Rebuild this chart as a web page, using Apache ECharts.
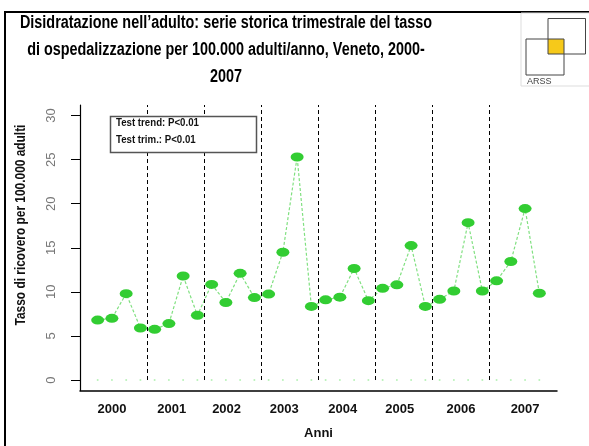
<!DOCTYPE html>
<html>
<head>
<meta charset="utf-8">
<script src="https://cdn.jsdelivr.net/npm/echarts@6/dist/echarts.min.js"></script>
<style>
  html, body { margin: 0; padding: 0; background: #fff; }
  #chart { width: 589px; height: 446px; }
</style>
</head>
<body>
<div id="chart"></div>
<script>
// trimestri 2000-2007 (indice 0..31)
var trimestri = [0, 1, 2, 3, 4, 5, 6, 7, 8, 9, 10, 11, 12, 13, 14, 15,
  16, 17, 18, 19, 20, 21, 22, 23, 24, 25, 26, 27, 28, 29, 30, 31];
var tasso = [6.8, 7.0, 9.8, 5.9, 5.75, 6.4, 11.8, 7.35, 10.85, 8.8, 12.1, 9.35,
  9.75, 14.5, 25.3, 8.35, 9.1, 9.4, 12.65, 9.0, 10.4, 10.8, 15.25, 8.35,
  9.15, 10.1, 17.85, 10.1, 11.25, 13.45, 19.45, 9.85];
var zeri = [0, 0, 0, 0, 0, 0, 0, 0, 0, 0, 0, 0, 0, 0, 0, 0,
  0, 0, 0, 0, 0, 0, 0, 0, 0, 0, 0, 0, 0, 0, 0, 0];
var anni = ["2000", "2001", "2002", "2003", "2004", "2005", "2006", "2007"];
var posAnni = [1.0, 5.2, 9.05, 13.1, 17.2, 21.2, 25.5, 30.0];
var separatori = [3.5, 7.5, 11.5, 15.5, 19.5, 23.5, 27.5];
var tickY = [0, 5, 10, 15, 20, 25, 30];
var titolo = [
  "Disidratazione nell\u2019adulto: serie storica trimestrale del tasso",
  "di ospedalizzazione per 100.000 adulti/anno, Veneto, 2000-",
  "2007"
];

var FONT = '"Liberation Sans", Arial, sans-serif';
var NARROW = 0.8; // il font originale e' un Arial Narrow

var chart = echarts.init(document.getElementById("chart"));

var graphics = [
  { type: "line", shape: { x1: 4, y1: 12, x2: 589, y2: 12 }, style: { stroke: "#000", lineWidth: 2 } },
  { type: "line", shape: { x1: 5, y1: 12, x2: 5, y2: 446 }, style: { stroke: "#000", lineWidth: 2 } },
  // logo ARSS
  { type: "rect", shape: { x: 521, y: 13, width: 70, height: 73 }, style: { fill: "#fff", stroke: "#ddd", lineWidth: 1 } },
  { type: "rect", shape: { x: 548, y: 39, width: 16, height: 15 }, style: { fill: "#f6c91a" } },
  { type: "rect", shape: { x: 548, y: 18.5, width: 37.5, height: 35.5 }, style: { fill: null, stroke: "#444", lineWidth: 1 } },
  { type: "rect", shape: { x: 526, y: 39, width: 38, height: 36 }, style: { fill: null, stroke: "#444", lineWidth: 1 } },
  { type: "text", x: 527, y: 77, style: { text: "ARSS", font: "9px " + FONT, fill: "#444" } },
  // riquadro test
  { type: "rect", z: 10, shape: { x: 110.5, y: 116.5, width: 146, height: 36 }, style: { fill: "#fff", stroke: "#555", lineWidth: 1.5 } },
  { type: "text", z: 11, x: 116, y: 123, scaleX: 0.88, style: { text: "Test trend: P<0.01", font: "bold 11px " + FONT, fill: "#111", verticalAlign: "middle" } },
  { type: "text", z: 11, x: 116, y: 140, scaleX: 0.88, style: { text: "Test trim.: P<0.01", font: "bold 11px " + FONT, fill: "#111", verticalAlign: "middle" } },
  // titolo asse y
  {
    type: "text", rotation: Math.PI / 2, x: 21, y: 225, scaleX: 0.85,
    style: { text: "Tasso di ricovero per 100.000 adulti", font: "bold 14px " + FONT, fill: "#111", align: "center", verticalAlign: "middle" }
  }
];
titolo.forEach(function (riga, i) {
  graphics.push({
    type: "text", x: 226, y: 23 + i * 27, scaleX: NARROW,
    style: { text: riga, font: "bold 18px " + FONT, fill: "#000", align: "center", verticalAlign: "middle" }
  });
});

chart.setOption({
  animation: false,
  backgroundColor: "#fff",
  grid: { left: 80, top: 105, width: 477, height: 285.6 },
  xAxis: {
    type: "value",
    min: -1.24,
    max: 32.24,
    splitLine: { show: false },
    axisLine: { onZero: false, lineStyle: { color: "#000", width: 1.5 } },
    axisTick: { show: false },
    axisLabel: {
      customValues: posAnni,
      margin: 12,
      fontFamily: FONT,
      fontWeight: "bold",
      fontSize: 13,
      color: "#111",
      formatter: function (v) {
        var i = posAnni.indexOf(v);
        return i >= 0 ? anni[i] : "";
      }
    },
    name: "Anni",
    nameLocation: "middle",
    nameGap: 36,
    nameTextStyle: { fontFamily: FONT, fontWeight: "bold", fontSize: 13, color: "#111" }
  },
  yAxis: {
    type: "value",
    min: -1.2,
    max: 31.2,
    splitLine: { show: false },
    axisLine: { show: true, onZero: false, lineStyle: { color: "#000", width: 1.2 } },
    axisTick: { show: true, customValues: tickY, length: 9, lineStyle: { color: "#000" } },
    axisLabel: {
      customValues: tickY,
      rotate: 90,
      margin: 22,
      fontFamily: FONT,
      fontSize: 13,
      color: "#777"
    }
  },
  graphic: graphics,
  series: [
    {
      type: "scatter",
      data: trimestri.map(function (t, i) { return [t, zeri[i]]; }),
      symbol: "circle",
      symbolSize: 2,
      itemStyle: { color: "#a8eea8" },
      silent: true,
      z: 1
    },
    {
      type: "line",
      data: trimestri.map(function (t, i) { return [t, tasso[i]]; }),
      symbol: "circle",
      symbolSize: [13, 9],
      showSymbol: true,
      itemStyle: { color: "#32cd32" },
      lineStyle: { color: "#80e080", width: 1.2, type: [3, 2] },
      z: 3,
      markLine: {
        silent: true,
        symbol: "none",
        label: { show: false },
        lineStyle: { color: "#000", width: 1, type: [4, 3] },
        data: separatori.map(function (s) {
          return [{ coord: [s, 0] }, { coord: [s, 31.2] }];
        })
      }
    }
  ]
});
</script>
</body>
</html>
